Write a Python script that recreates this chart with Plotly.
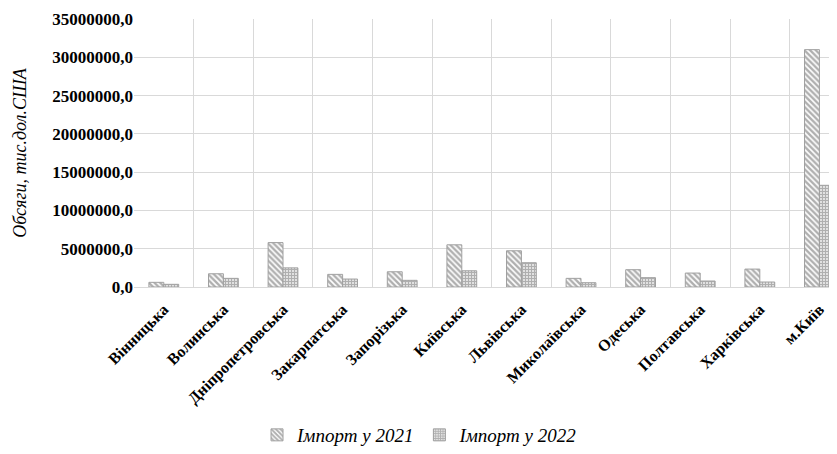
import plotly.graph_objects as go

categories = ["Вінницька", "Волинська", "Дніпропетровська", "Закарпатська", "Запорізька",
              "Київська", "Львівська", "Миколаївська", "Одеська", "Полтавська",
              "Харківська", "м.Київ"]
import_2021 = [610000, 1730000, 5800000, 1650000, 1990000, 5510000, 4730000, 1130000,
               2260000, 1820000, 2340000, 31000000]
import_2022 = [350000, 1130000, 2500000, 1040000, 870000, 2120000, 3170000, 560000,
               1220000, 780000, 650000, 13280000]
y_ticks = [0, 5000000, 10000000, 15000000, 20000000, 25000000, 30000000, 35000000]
y_tick_labels = ["0,0", "5000000,0", "10000000,0", "15000000,0", "20000000,0",
                 "25000000,0", "30000000,0", "35000000,0"]

serif = "Liberation Serif"

fig = go.Figure()
fig.add_trace(go.Bar(
    name="Імпорт у 2021", x=categories, y=import_2021,
    marker=dict(color="white", line=dict(color="#a0a0a0", width=1),
                pattern=dict(shape="\\", fgcolor="#606060", bgcolor="white",
                             size=4, solidity=0.6)),
))
fig.add_trace(go.Bar(
    name="Імпорт у 2022", x=categories, y=import_2022,
    marker=dict(color="white", line=dict(color="#a0a0a0", width=1),
                pattern=dict(shape="+", fgcolor="#606060", bgcolor="white",
                             size=3, solidity=0.7)),
))

fig.update_layout(
    width=829, height=446,
    margin=dict(l=126, r=0, t=11, b=166),
    paper_bgcolor="white", plot_bgcolor="white",
    barmode="group", bargap=0.5, bargroupgap=0,
    font=dict(family=serif, color="black"),
    showlegend=True,
    legend=dict(orientation="h", x=0.175, xanchor="left", y=-0.554, yanchor="middle",
                font=dict(family=serif, size=19, style="italic"),
                itemwidth=30, traceorder="normal"),
    xaxis=dict(
        range=[-0.5, 11.295], tickson="boundaries", showgrid=True,
        gridcolor="#d9d9d9", gridwidth=1, ticks="", tickangle=-45,
        ticklabelstandoff=9,
        tickfont=dict(family=serif, size=16, weight="bold"),
        showline=False, zeroline=False,
    ),
    yaxis=dict(
        range=[0, 35000000], tickvals=y_ticks, ticktext=y_tick_labels,
        showgrid=True, gridcolor="#d9d9d9", gridwidth=1, zeroline=True,
        zerolinecolor="#d9d9d9", zerolinewidth=1, ticks="",
        tickfont=dict(family=serif, size=17, weight="bold"),
        title=dict(text="Обсяги, тис.дол.США",
                   font=dict(family=serif, size=18, style="italic"), standoff=20),
    ),
)

fig.write_html("out.html")
